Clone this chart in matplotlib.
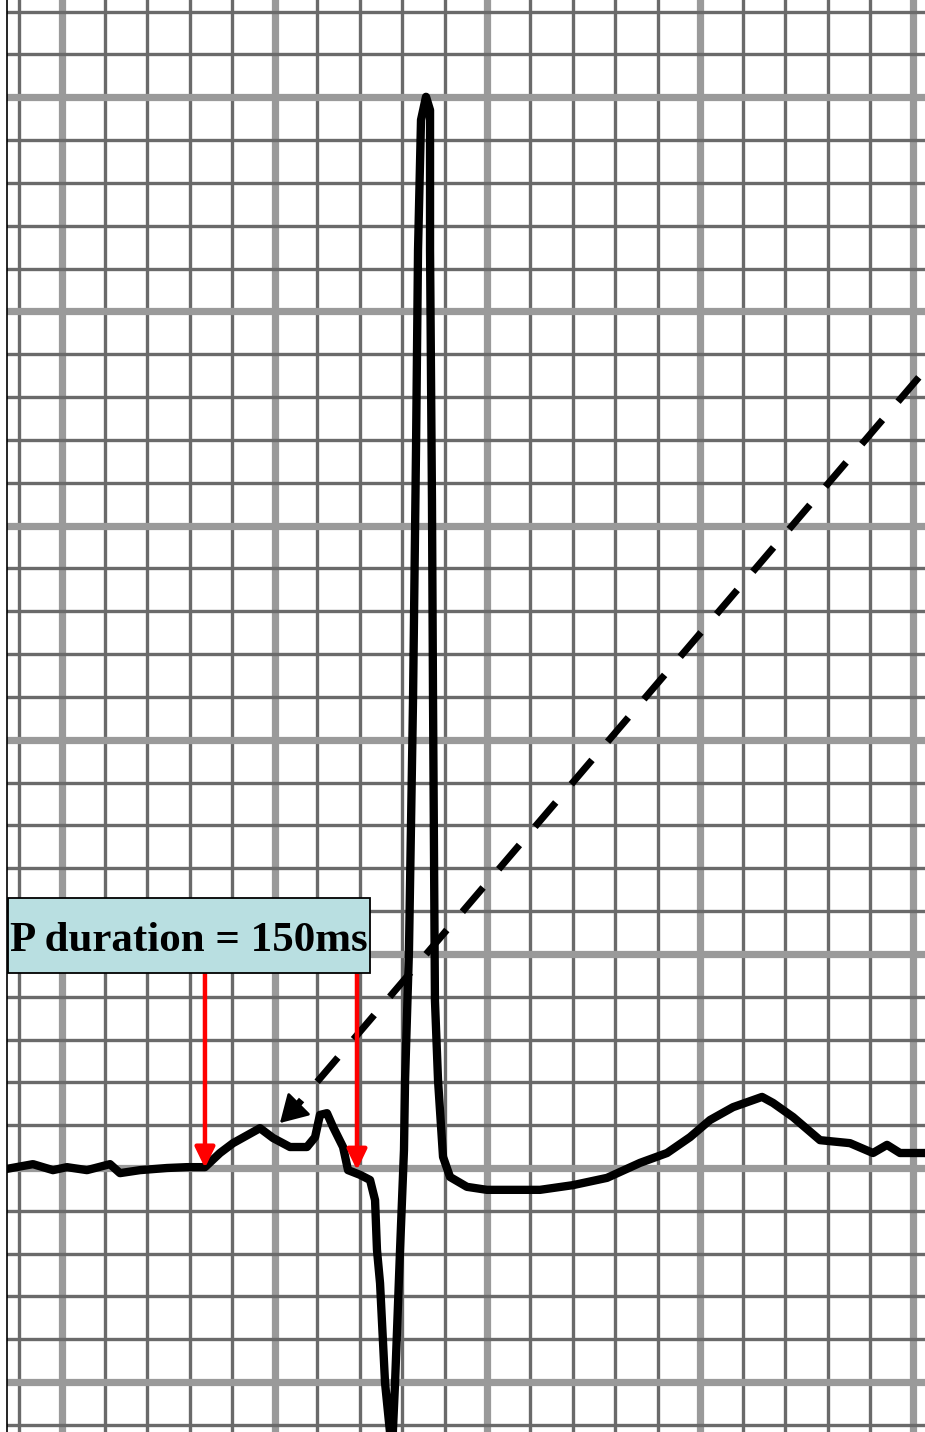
import matplotlib
matplotlib.use("Agg")
import matplotlib.pyplot as plt
from matplotlib.ticker import MultipleLocator
from matplotlib.patches import Rectangle

# ---- ECG trace (time in ms, amplitude in mV) ----
time_ms = [-58.3, -51.7, -27.3, -8.5, 4.7, 23.5, 45.1, 54.5, 73.3, 98.7, 117.5, 134.4,
           148.5, 160.8, 186.1, 198.4, 214.3, 230.3, 237.9, 242.5, 249.1, 254.8, 264.2,
           268.9, 280.2, 289.6, 294.3, 296.1, 299.0, 303.7, 310.2, 313.1, 317.8, 321.5,
           322.5, 326.2, 330.0, 332.8, 334.7, 337.5, 342.2, 346.0, 346.0, 347.8, 348.8,
           350.6, 353.5, 358.2, 364.8, 380.7, 399.5, 449.4, 480.4, 512.4, 543.4, 568.8,
           590.4, 609.2, 630.8, 658.1, 668.4, 687.2, 712.6, 740.8, 762.4, 775.6, 787.8,
           811.3, 820.7]
volt_mv = [0.000, -0.002, 0.009, -0.005, 0.002, -0.005, 0.009, -0.012, -0.005, 0.000, 0.002, 0.002,
           0.035, 0.058, 0.093, 0.070, 0.049, 0.049, 0.072, 0.124, 0.128, 0.096, 0.049,
           -0.005, -0.016, -0.028, -0.075, -0.191, -0.269, -0.502, -0.663, -0.502, -0.191, 0.042,
           0.205, 0.509, 1.093, 1.676, 2.143, 2.447, 2.501, 2.470, 2.143, 1.560, 1.093,
           0.392, 0.205, 0.026, -0.021, -0.044, -0.051, -0.051, -0.040, -0.023, 0.012, 0.035,
           0.072, 0.112, 0.142, 0.166, 0.152, 0.119, 0.065, 0.058, 0.035, 0.054, 0.035,
           0.035, 0.030]

# P-wave markers (ms) and label
p_onset_ms = 134.4
p_offset_ms = 277.3
label_text = "P duration = 150ms"

# ---- figure ----
W, H, DPI = 925, 1432, 100
fig = plt.figure(figsize=(W / DPI, H / DPI), dpi=DPI, facecolor="white")
ax = fig.add_axes([7 / W, 0, 1 - 7 / W, 1])
ax.set_facecolor("white")

x_left, x_right = -51.7, 811.3
y_bot, y_top = -0.6164, 2.7271
ax.set_xlim(x_left, x_right)
ax.set_ylim(y_bot, y_top)

# ECG paper grid
ax.xaxis.set_major_locator(MultipleLocator(200))
ax.xaxis.set_minor_locator(MultipleLocator(40))
ax.yaxis.set_major_locator(MultipleLocator(0.5))
ax.yaxis.set_minor_locator(MultipleLocator(0.1))
ax.grid(which="minor", color="#6a6a6a", lw=2.4, zorder=0)
ax.grid(which="major", color="#9a9a9a", lw=5.2, zorder=0)
ax.set_axisbelow(True)
ax.tick_params(which="both", length=0, labelbottom=False, labelleft=False)
for s in ["top", "right", "bottom"]:
    ax.spines[s].set_visible(False)
ax.spines["left"].set_color("black")
ax.spines["left"].set_linewidth(1.2)

# trace
ax.plot(time_ms, volt_mv, color="black", lw=6.0, solid_joinstyle="round",
        solid_capstyle="round", zorder=3)

# dashed arrow pointing at the P wave
dash_start = (825.4, 1.904)
dash_end = (218.1, 0.138)
head_base = (221.0, 0.145)
head_tip = (204.9, 0.105)
lw_d = 5.0
ax.plot([dash_start[0], dash_end[0]], [dash_start[1], dash_end[1]], color="black",
        lw=lw_d, linestyle=(6.45, (4.6, 3.45)), dash_capstyle="butt", zorder=4)
ax.annotate("", xy=head_tip, xytext=head_base,
            arrowprops=dict(arrowstyle="-|>,head_length=0.85,head_width=0.5",
                            mutation_scale=20, color="black", lw=2,
                            shrinkA=0, shrinkB=0), zorder=5)

# red arrows marking P onset / offset
box_bottom_mv = 0.455
for t, tip in [(p_onset_ms, 0.0), (p_offset_ms, -0.005)]:
    ax.annotate("", xy=(t, tip), xytext=(t, box_bottom_mv),
                arrowprops=dict(arrowstyle="-|>,head_length=0.62,head_width=0.3",
                                mutation_scale=20, color="#ff0000", lw=3.2,
                                shrinkA=0, shrinkB=0), zorder=6)

# label box
rect = Rectangle((8 / W, 1 - 973 / H), 362 / W, 75 / H, transform=fig.transFigure,
                 facecolor="#b9dfe1", edgecolor="black", lw=1.3, zorder=10)
fig.patches.append(rect)
fig.text(189 / W, 1 - 951 / H, label_text, ha="center", va="baseline",
         fontsize=31, fontweight="bold", family=["Liberation Serif", "DejaVu Serif"],
         color="black", zorder=11)

fig.savefig("out.png", dpi=DPI, facecolor="white")
